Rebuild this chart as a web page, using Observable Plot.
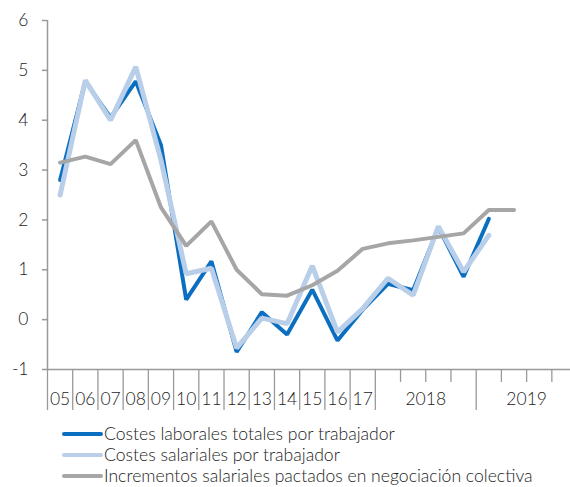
<!DOCTYPE html>
<html><head><meta charset="utf-8">
<script src="https://cdn.jsdelivr.net/npm/d3@7"></script>
<script src="https://cdn.jsdelivr.net/npm/@observablehq/plot@0.6"></script>
<style>
body{margin:0;background:#fff;font-family:Lato,"Open Sans",sans-serif;color:#222;}
#legend{padding-top:8px;padding-left:62px;font-size:17.6px;line-height:21px;font-weight:300;}
.row{display:flex;align-items:center;}
.sw{width:41px;height:4px;margin-right:1px;border-radius:2px;}
svg text{font-weight:300;}
</style></head>
<body><div id="chart"></div><div id="legend"></div>
<script>
const categories = ["05","06","07","08","09","10","11","12","13","14","15","16","17",
  "2018-I","2018-II","2018-III","2018-IV","2019-I","2019-II","2019-III","2019-IV"];
const costesLaborales = [2.8,4.78,4.05,4.78,3.5,0.4,1.17,-0.65,0.15,-0.3,0.6,-0.42,0.2,0.72,0.59,1.85,0.86,2.02,null,null,null];
const costesSalariales = [2.5,4.8,4.0,5.07,3.2,0.92,1.03,-0.57,0.03,-0.08,1.08,-0.25,0.22,0.83,0.49,1.87,0.96,1.69,null,null,null];
const incrementos = [3.15,3.27,3.12,3.6,2.25,1.48,1.97,1.0,0.51,0.48,0.69,0.98,1.42,1.53,1.59,1.66,1.73,2.2,2.2,null,null];
const seriesNames = ["Costes laborales totales por trabajador","Costes salariales por trabajador","Incrementos salariales pactados en negociación colectiva"];
const colors = ["#0b6fc1","#b8cee9","#a6a6a6"];
const xLabels = ["05","06","07","08","09","10","11","12","13","14","15","16","17","2018","2019"];
const yTicks = [-1,0,1,2,3,4,5,6];

const rows = (vals) => vals.map((v,i)=>({i: i+0.5, cat: categories[i], v})).filter(d=>d.v!=null);
const labelPos = [...d3.range(13).map(i=>i+0.5), 15, 19];
const longTicks = [...d3.range(14), 17];
const shortTicks = [14,15,16,18,19,20];

const chart = Plot.plot({
  width: 570, height: 415,
  marginLeft: 47, marginRight: 0, marginTop: 20, marginBottom: 46,
  style: {fontFamily: "Lato, sans-serif", color: "#222", background: "#fff"},
  x: {domain: [0, 20.74], axis: null},
  y: {domain: [-1, 6], axis: null},
  marks: [
    Plot.axisY({ticks: yTicks, tickSize: 5, tickPadding: 14, fontSize: 17.5, stroke: "#999", strokeWidth: 1.5, tickFormat: d=>String(d), label: null}),
    Plot.ruleX([0], {y1: -1, y2: 6, stroke: "#999", strokeWidth: 1.5}),
    Plot.ruleY([-1], {stroke: "#999", strokeWidth: 1.5}),
    Plot.axisX({ticks: longTicks, tickSize: 41, tickFormat: () => "", stroke: "#999", strokeWidth: 1.3, label: null}),
    Plot.axisX({ticks: shortTicks, tickSize: 13, tickFormat: () => "", stroke: "#999", strokeWidth: 1.3, label: null}),
    Plot.axisX({ticks: labelPos, tickSize: 0, tickPadding: 23, fontSize: 17.5, tickFormat: (d,i)=>xLabels[i], label: null}),
    Plot.line(rows(costesLaborales), {x: "i", y: "v", stroke: colors[0], strokeWidth: 4, strokeLinejoin: "miter"}),
    Plot.line(rows(costesSalariales), {x: "i", y: "v", stroke: colors[1], strokeWidth: 5, strokeLinejoin: "miter"}),
    Plot.line(rows(incrementos), {x: "i", y: "v", stroke: colors[2], strokeWidth: 4, strokeLinejoin: "miter"})
  ]
});
document.getElementById("chart").append(chart);
const lg = document.getElementById("legend");
seriesNames.forEach((n,k)=>{
  const r = document.createElement("div"); r.className="row";
  const s = document.createElement("span"); s.className="sw"; s.style.background=colors[k];
  const t = document.createElement("span"); t.textContent = n;
  r.append(s,t); lg.append(r);
});
</script></body></html>
